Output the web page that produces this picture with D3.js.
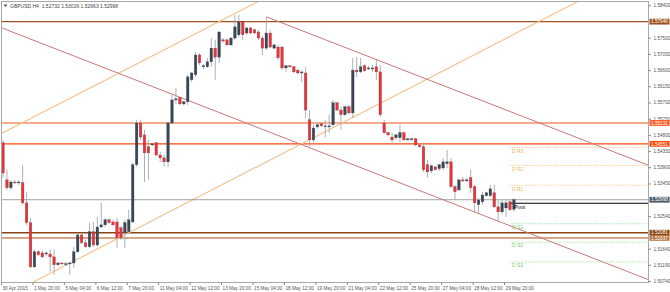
<!DOCTYPE html>
<html>
<head>
<meta charset="utf-8">
<script src="https://cdn.jsdelivr.net/npm/d3@7"></script>
<style>
  body { margin: 0; background: #fff; }
  svg { display: block; font-family: "Liberation Sans", Arial, sans-serif; }
</style>
</head>
<body>
<script>
// ---- data ----
const symbol = "GBPUSD,H4";
const lastBar = [1.52732, 1.53026, 1.52663, 1.52998];

const timeLabels = ["30 Apr 2015", "1 May 20:00", "5 May 04:00", "6 May 12:00", "7 May 20:00",
  "11 May 04:00", "12 May 12:00", "13 May 20:00", "15 May 04:00", "18 May 12:00", "19 May 20:00",
  "21 May 04:00", "22 May 12:00", "25 May 20:00", "27 May 04:00", "28 May 12:00", "29 May 20:00"];

const priceTicks = [1.58400, 1.57500, 1.57050, 1.56600, 1.56150, 1.55700, 1.55250, 1.54800,
  1.54350, 1.53900, 1.53450, 1.52540, 1.51640, 1.51190, 1.50740];

const open = [1.5458,1.5355,1.5333,1.5349,1.5347,1.5347,1.5291,1.5236,1.5113,1.5155,
  1.5152,1.5149,1.5149,1.5141,1.5119,1.5124,1.5122,1.5122,1.5124,1.5155,
  1.5202,1.5180,1.5169,1.5211,1.5174,1.5224,1.5230,1.5244,1.5238,1.5238,
  1.5222,1.5208,1.5211,1.5238,1.5397,1.5513,1.5480,1.5447,1.5452,1.5458,
  1.5424,1.5416,1.5405,1.5513,1.5577,1.5583,1.5566,1.5572,1.5633,1.5647,
  1.5702,1.5669,1.5669,1.5683,1.5721,1.5696,1.5744,1.5744,1.5730,1.5749,
  1.5758,1.5794,1.5763,1.5777,1.5772,1.5766,1.5749,1.5721,1.5763,1.5721,
  1.5724,1.5724,1.5666,1.5672,1.5669,1.5660,1.5652,1.5652,1.5522,1.5466,
  1.5502,1.5511,1.5505,1.5502,1.5508,1.5569,1.5549,1.5536,1.5558,1.5541,
  1.5660,1.5655,1.5672,1.5663,1.5663,1.5669,1.5655,1.5513,1.5486,1.5474,
  1.5472,1.5472,1.5486,1.5466,1.5469,1.5469,1.5452,1.5447,1.5397,1.5380,
  1.5391,1.5386,1.5388,1.5400,1.5405,1.5336,1.5327,1.5355,1.5352,1.5361,
  1.5336,1.5286,1.5294,1.5311,1.5311,1.5319,1.5280,1.5266,1.5277,1.5294,
  1.52732];
const high = [1.5466,1.5383,1.5355,1.5355,1.5355,1.5397,1.5322,1.5249,1.5161,1.5161,
  1.5158,1.5155,1.5161,1.5161,1.5127,1.5127,1.5127,1.5127,1.5169,1.5208,
  1.5205,1.5188,1.5236,1.5238,1.5252,1.5291,1.5249,1.5249,1.5244,1.5249,
  1.5227,1.5244,1.5272,1.5402,1.5522,1.5522,1.5494,1.5466,1.5458,1.5460,
  1.5433,1.5424,1.5516,1.5591,1.5610,1.5585,1.5575,1.5647,1.5655,1.5710,
  1.5707,1.5677,1.5694,1.5749,1.5744,1.5766,1.5749,1.5747,1.5752,1.5813,
  1.5813,1.5794,1.5780,1.5780,1.5775,1.5772,1.5755,1.5808,1.5772,1.5733,
  1.5730,1.5727,1.5674,1.5674,1.5672,1.5663,1.5655,1.5669,1.5549,1.5508,
  1.5511,1.5513,1.5522,1.5536,1.5577,1.5572,1.5558,1.5561,1.5563,1.5694,
  1.5696,1.5694,1.5677,1.5672,1.5674,1.5688,1.5674,1.5522,1.5489,1.5486,
  1.5483,1.5508,1.5489,1.5472,1.5472,1.5472,1.5455,1.5458,1.5411,1.5397,
  1.5394,1.5400,1.5416,1.5438,1.5416,1.5341,1.5358,1.5363,1.5360,1.5383,
  1.5341,1.5305,1.5322,1.5322,1.5341,1.5341,1.5299,1.5299,1.5299,1.5299,
  1.53026];
const low = [1.5361,1.5327,1.5327,1.5344,1.5341,1.5286,1.5230,1.5111,1.5111,1.5144,
  1.5138,1.5144,1.5099,1.5091,1.5116,1.5119,1.5116,1.5091,1.5111,1.5152,
  1.5177,1.5166,1.5166,1.5169,1.5169,1.5222,1.5224,1.5233,1.5227,1.5166,
  1.5188,1.5166,1.5208,1.5236,1.5391,1.5466,1.5349,1.5355,1.5449,1.5421,
  1.5405,1.5391,1.5391,1.5511,1.5566,1.5563,1.5561,1.5563,1.5627,1.5641,
  1.5674,1.5663,1.5666,1.5669,1.5633,1.5680,1.5735,1.5727,1.5727,1.5744,
  1.5752,1.5744,1.5758,1.5760,1.5760,1.5744,1.5702,1.5716,1.5721,1.5718,
  1.5688,1.5660,1.5655,1.5666,1.5652,1.5649,1.5627,1.5527,1.5447,1.5460,
  1.5497,1.5502,1.5474,1.5486,1.5502,1.5546,1.5494,1.5533,1.5536,1.5527,
  1.5641,1.5652,1.5655,1.5660,1.5655,1.5633,1.5530,1.5483,1.5477,1.5458,
  1.5466,1.5460,1.5463,1.5463,1.5463,1.5449,1.5444,1.5377,1.5361,1.5374,
  1.5380,1.5380,1.5383,1.5388,1.5333,1.5299,1.5324,1.5349,1.5349,1.5319,
  1.5263,1.5263,1.5286,1.5308,1.5308,1.5277,1.5238,1.5258,1.5252,1.5269,
  1.52663];
const close = [1.5374,1.5333,1.5349,1.5347,1.5349,1.5291,1.5236,1.5113,1.5155,1.5147,
  1.5141,1.5152,1.5141,1.5119,1.5124,1.5122,1.5122,1.5124,1.5155,1.5202,
  1.5180,1.5169,1.5211,1.5174,1.5224,1.5230,1.5244,1.5236,1.5230,1.5194,
  1.5194,1.5236,1.5244,1.5397,1.5513,1.5474,1.5430,1.5430,1.5455,1.5424,
  1.5416,1.5405,1.5513,1.5577,1.5580,1.5566,1.5572,1.5641,1.5652,1.5702,
  1.5680,1.5672,1.5683,1.5721,1.5696,1.5766,1.5741,1.5730,1.5749,1.5780,
  1.5794,1.5758,1.5777,1.5763,1.5763,1.5749,1.5721,1.5763,1.5724,1.5730,
  1.5694,1.5666,1.5672,1.5669,1.5655,1.5652,1.5655,1.5549,1.5466,1.5499,
  1.5508,1.5505,1.5505,1.5505,1.5569,1.5549,1.5536,1.5558,1.5541,1.5660,
  1.5655,1.5669,1.5658,1.5666,1.5666,1.5655,1.5536,1.5486,1.5480,1.5466,
  1.5480,1.5486,1.5466,1.5469,1.5469,1.5452,1.5447,1.5383,1.5377,1.5394,
  1.5383,1.5397,1.5405,1.5405,1.5336,1.5322,1.5355,1.5352,1.5355,1.5333,
  1.5291,1.5299,1.5313,1.5319,1.5330,1.5280,1.5266,1.5291,1.5291,1.5272,
  1.52998];

// horizontal support / resistance lines
const levelPrices = [1.57946, 1.55131, 1.54551, 1.52081, 1.51937];

// daily pivot levels
const pivotNames = ["D R3", "D R2", "D R1", "Pivot", "D S1", "D S2", "D S3"];
const pivotPrices = [1.5445, 1.5395, 1.5340, 1.5290, 1.5233, 1.5182, 1.5127];

// trend lines: two anchors each [bar index, price]
const tanLines = [[[7.3, 1.5069], [97.6, 1.5577]], [[-0.3, 1.5484], [50.1, 1.5767]]];
const roseLines = [[[-0.25, 1.5777], [164.4, 1.5077]]];
const roseRays = [[[67, 1.5808], [164.1, 1.5396]]];

// ---- drawing ----
const W = 670, H = 292;
const frame = { left: 1.5, top: 1.5, right: 648.5, bottom: 282.5 };

const svg = d3.select("body").append("svg")
  .attr("width", W)
  .attr("height", H);

svg.append("defs").append("clipPath").attr("id", "plot")
  .append("rect")
  .attr("x", frame.left).attr("y", frame.top)
  .attr("width", frame.right - frame.left)
  .attr("height", frame.bottom - frame.top);

const x = d3.scaleLinear().domain([0, 130]).range([3, 513.9]);
const y = d3.scaleLinear().domain([1.5074, 1.5840]).range([281, 5.3]);

const plot = svg.append("g").attr("clip-path", "url(#plot)");

// line through two anchors, stretched to the frame (or from the first anchor if ray)
function lineThrough(a, b, ray) {
  const x1 = x(a[0]), y1 = y(a[1]), x2 = x(b[0]), y2 = y(b[1]);
  const k = (y2 - y1) / (x2 - x1);
  const xs = ray ? x1 : frame.left;
  return [xs, y1 + k * (xs - x1), frame.right, y1 + k * (frame.right - x1)];
}

function drawLines(list, color, w, ray) {
  plot.selectAll(null)
    .data(list)
    .join("line")
    .attr("x1", d => lineThrough(d[0], d[1], ray)[0])
    .attr("y1", d => lineThrough(d[0], d[1], ray)[1])
    .attr("x2", d => lineThrough(d[0], d[1], ray)[2])
    .attr("y2", d => lineThrough(d[0], d[1], ray)[3])
    .attr("stroke", color)
    .attr("stroke-width", w);
}

// horizontal levels
const levelStyle = [
  { line: "#a0521f", box: "#a0521f", w: 1.3 },
  { line: "#f7ab8a", box: "#ff5a22", w: 2 },
  { line: "#ff4a0a", box: "#ff4a0a", w: 1.3 },
  { line: "#8b4513", box: "#8b4513", w: 1.3 },
  { line: "#d8a688", box: "#b87444", w: 2 }
];

plot.selectAll(".lvl")
  .data(levelPrices)
  .join("line")
  .attr("class", "lvl")
  .attr("x1", frame.left).attr("x2", frame.right)
  .attr("y1", d => y(d)).attr("y2", d => y(d))
  .attr("stroke", (d, i) => levelStyle[i].line)
  .attr("stroke-width", (d, i) => levelStyle[i].w);

drawLines(tanLines, "#f2c08e", 1.1, false);
drawLines(roseLines, "#c87878", 1, false);
drawLines(roseRays, "#c87878", 1, true);

// bid line
plot.append("line")
  .attr("x1", frame.left).attr("x2", frame.right)
  .attr("y1", y(lastBar[3])).attr("y2", y(lastBar[3]))
  .attr("stroke", "#8a8a8a").attr("stroke-width", 0.8);

// pivot levels
const pivStart = x(129);
plot.selectAll(".piv")
  .data(pivotPrices)
  .join("line")
  .attr("class", "piv")
  .attr("x1", (d, i) => i === 3 ? pivStart + 1 : pivStart)
  .attr("x2", frame.right)
  .attr("y1", d => y(d)).attr("y2", d => y(d))
  .attr("stroke", (d, i) => i < 3 ? "#ffb65c" : i === 3 ? "#000" : "#7fd67f")
  .attr("stroke-width", (d, i) => i === 3 ? 1.2 : 0.8)
  .attr("stroke-dasharray", (d, i) => i === 3 ? null : "1,1.3");

// candles
const bars = d3.range(open.length).map(i => ({
  i, o: open[i], h: high[i], l: low[i], c: close[i]
}));

const cg = plot.append("g");
cg.selectAll(".wick")
  .data(bars)
  .join("line")
  .attr("class", "wick")
  .attr("x1", d => x(d.i)).attr("x2", d => x(d.i))
  .attr("y1", d => y(d.h)).attr("y2", d => y(d.l))
  .attr("stroke", "#a4a8ad")
  .attr("stroke-width", 0.9);

cg.selectAll(".body")
  .data(bars)
  .join("rect")
  .attr("class", "body")
  .attr("x", d => x(d.i) - 1.3)
  .attr("width", 2.6)
  .attr("y", d => y(Math.max(d.o, d.c)))
  .attr("height", d => Math.max(0.9, Math.abs(y(d.o) - y(d.c))))
  .attr("fill", d => d.c < d.o ? "#e8333b" : "#3b4654")
  .attr("stroke", d => d.c < d.o ? "#8a3a3f" : "#3b4654")
  .attr("stroke-width", 0.3);

// pivot texts
plot.selectAll(".pivtxt")
  .data(pivotPrices)
  .join("text")
  .attr("class", "pivtxt")
  .attr("x", (d, i) => i === 3 ? pivStart + 4 : pivStart + 2)
  .attr("y", d => y(d) + 5.3)
  .attr("font-size", 5)
  .attr("fill", (d, i) => i < 3 ? "#f5b060" : i === 3 ? "#111" : "#6fcf6f")
  .text((d, i) => pivotNames[i]);

// frame
svg.append("rect")
  .attr("x", frame.left).attr("y", frame.top)
  .attr("width", frame.right - frame.left)
  .attr("height", frame.bottom - frame.top)
  .attr("fill", "none")
  .attr("stroke", "#a8a8a8")
  .attr("stroke-width", 1);

// price axis
const yAxis = svg.append("g")
  .attr("transform", `translate(${frame.right},0)`)
  .call(d3.axisRight(y).tickValues(priceTicks).tickFormat(d3.format(".5f")).tickSize(2.5).tickPadding(2.5));
yAxis.select(".domain").remove();
yAxis.selectAll("line").attr("stroke", "#888");
yAxis.selectAll("text").attr("font-size", 4.7).attr("fill", "#555").attr("font-family", "Liberation Sans, Arial, sans-serif");

// price boxes on axis
const boxes = levelPrices.map((p, i) => ({ p, fill: levelStyle[i].box }))
  .concat([{ p: lastBar[3], fill: "#505b67" }]);
const bg = svg.append("g");
bg.selectAll("rect")
  .data(boxes)
  .join("rect")
  .attr("x", frame.right + 1)
  .attr("y", d => y(d.p) - 2.9)
  .attr("width", 20)
  .attr("height", 5.8)
  .attr("fill", d => d.fill);
bg.selectAll("text")
  .data(boxes)
  .join("text")
  .attr("x", frame.right + 2.5)
  .attr("y", d => y(d.p) + 1.7)
  .attr("font-size", 4.7)
  .attr("fill", "#fff")
  .text(d => d3.format(".5f")(d.p));

// time axis
const tIdx = timeLabels.map((t, k) => k * 8);
const xAxis = svg.append("g")
  .attr("transform", `translate(-2,${frame.bottom})`)
  .call(d3.axisBottom(x).tickValues(tIdx).tickFormat((d, k) => timeLabels[k]).tickSize(2.5).tickPadding(1.5));
xAxis.select(".domain").remove();
xAxis.selectAll("line").attr("stroke", "#888");
xAxis.selectAll("text")
  .attr("text-anchor", "start")
  .attr("dx", 1)
  .attr("font-size", 4.7)
  .attr("fill", "#555")
  .attr("font-family", "Liberation Sans, Arial, sans-serif");

// header
svg.append("path")
  .attr("d", "M3.5,4.5 L7.5,4.5 L5.5,7 Z")
  .attr("fill", "#555");
svg.append("text")
  .attr("x", 10).attr("y", 7.8)
  .attr("font-size", 5)
  .attr("fill", "#444")
  .attr("xml:space", "preserve")
  .text(`${symbol}  ${lastBar.map(d3.format(".5f")).join(" ")}`);
</script>
</body>
</html>
